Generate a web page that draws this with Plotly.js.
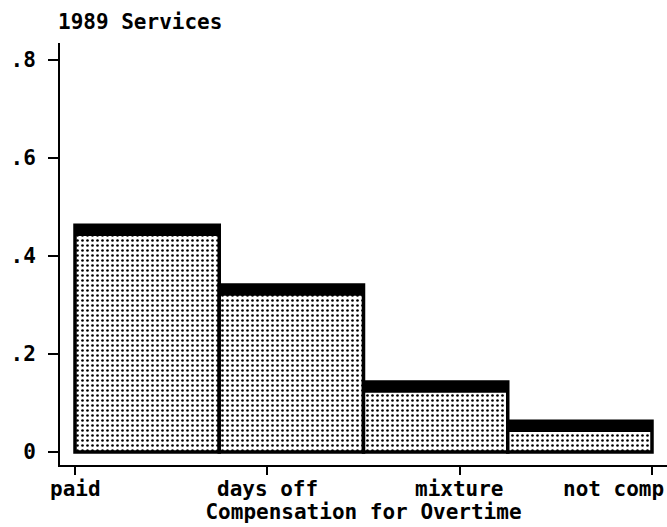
<!DOCTYPE html>
<html>
<head>
<meta charset="utf-8">
<script src="https://cdn.plot.ly/plotly-3.0.1.min.js"></script>
<style>html,body{margin:0;padding:0;background:#fff;}#chart{width:667px;height:527px;}</style>
</head>
<body>
<div id="chart"></div>
<script>
const categories = ["paid", "days off", "mixture", "not comp"];
const shares = [0.463, 0.341, 0.143, 0.063];
const tickValues = [1, 2, 3, 4];
const yTickValues = [0, 0.2, 0.4, 0.6, 0.8];
const yTickLabels = ["0", ".2", ".4", ".6", ".8"];

// bars span the axis from first to last category in equal-width bins
const binW = (tickValues[tickValues.length - 1] - tickValues[0]) / categories.length;
const centers = categories.map((c, i) => tickValues[0] + binW * (i + 0.5));
const band = 0.02;

const font = "DejaVu Sans Mono, Liberation Mono, monospace";

const traces = [
  {
    type: "bar",
    x: centers,
    y: shares,
    width: binW,
    marker: {
      color: "#ffffff",
      pattern: { shape: ".", fgcolor: "#000000", bgcolor: "#ffffff", size: 5, solidity: 0.22 },
      line: { color: "#000000", width: 3.5 }
    },
    hoverinfo: "skip",
    showlegend: false
  },
  {
    type: "bar",
    x: centers,
    y: shares.map(() => band),
    base: shares.map(v => v - band),
    width: binW,
    marker: { color: "#000000", line: { color: "#000000", width: 2 } },
    hoverinfo: "skip",
    showlegend: false
  }
];

// category labels under the ticks; the last one is kept inside the page
const last = categories.length - 1;
const tickAnnotations = categories.map((c, i) => ({
  text: c,
  x: tickValues[i],
  xref: "x",
  y: 0,
  yref: "paper",
  yanchor: "top",
  xanchor: i === last ? "right" : "center",
  xshift: i === last ? 14 : 0,
  yshift: -10,
  showarrow: false,
  font: { family: font, size: 21, color: "#000000", weight: "bold" }
}));

const layout = {
  width: 667,
  height: 527,
  margin: { l: 60, r: 0, t: 43, b: 62 },
  paper_bgcolor: "#ffffff",
  plot_bgcolor: "#ffffff",
  barmode: "overlay",
  bargap: 0,
  font: { family: font, color: "#000000", size: 21, weight: "bold" },
  title: {
    text: "1989 Services",
    x: 58 / 667, xref: "container", xanchor: "left",
    y: 1 - 22 / 527, yref: "container", yanchor: "middle",
    font: { family: font, size: 21, color: "#000000", weight: "bold" }
  },
  annotations: tickAnnotations,
  xaxis: {
    range: [0.922, 4.078],
    tickvals: tickValues,
    showticklabels: false,
    ticks: "outside",
    ticklen: 8,
    tickwidth: 2,
    tickcolor: "#000000",
    showline: true,
    linecolor: "#000000",
    linewidth: 2,
    showgrid: false,
    zeroline: false,
    title: { text: "Compensation for Overtime", font: { family: font, size: 21, weight: "bold" }, standoff: 30 }
  },
  yaxis: {
    range: [-0.0265, 0.8347],
    tickvals: yTickValues,
    ticktext: yTickLabels,
    ticks: "outside",
    ticklen: 10,
    tickwidth: 2,
    tickcolor: "#000000",
    showline: true,
    linecolor: "#000000",
    linewidth: 2,
    showgrid: false,
    zeroline: false,
    ticklabelstandoff: 8,
    tickfont: { family: font, size: 21, weight: "bold" }
  }
};

Plotly.newPlot("chart", traces, layout, { staticPlot: true, displayModeBar: false });
</script>
</body>
</html>
